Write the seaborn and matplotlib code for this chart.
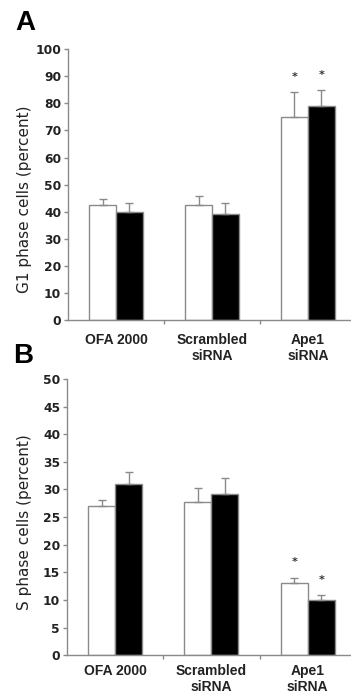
import pandas as pd
import seaborn as sns
import matplotlib.pyplot as plt
import numpy as np

# data
groups = ['OFA 2000', 'Scrambled\nsiRNA', 'Ape1\nsiRNA']
series = ['open', 'filled']

g1_open = [42.5, 42.5, 75.0]
g1_filled = [40.0, 39.0, 79.0]
g1_open_err = [2.0, 3.3, 9.2]
g1_filled_err = [3.2, 4.2, 6.0]
g1_stars = [False, False, True]

s_open = [27.0, 27.7, 13.0]
s_filled = [31.0, 29.1, 10.0]
s_open_err = [1.0, 2.5, 1.0]
s_filled_err = [2.1, 3.0, 0.8]
s_stars = [False, False, True]

sns.set_theme(style="white")
plt.rcParams['font.family'] = ['DejaVu Sans']

GRAY = '#8a8a8a'
INK = '#222222'


def panel(ax, open_vals, filled_vals, open_err, filled_err, stars, ymax, ystep,
          ylabel, star_pad, label_xy, xpad):
    df = pd.DataFrame({
        'group': groups * 2,
        'kind': [series[0]] * 3 + [series[1]] * 3,
        'value': open_vals + filled_vals,
    })
    sns.barplot(data=df, x='group', y='value', hue='kind', hue_order=series,
                palette={'open': 'white', 'filled': 'black'}, width=0.56,
                edgecolor=GRAY, linewidth=1.0, errorbar=None, legend=False, ax=ax)

    errs = open_err + filled_err
    vals = open_vals + filled_vals
    star_flags = stars + stars
    for p, v, e, st in zip(ax.patches, vals, errs, star_flags):
        xc = p.get_x() + p.get_width() / 2
        ax.errorbar(xc, v, yerr=[[0], [e]], fmt='none', ecolor=GRAY,
                    elinewidth=1.0, capsize=2.8, capthick=1.0)
        if st:
            ax.text(xc, v + e + star_pad, '*', ha='center', va='center',
                    fontsize=8, fontweight='bold', color='#333333')

    ax.set_ylim(0, ymax)
    ax.set_yticks(np.arange(0, ymax + 0.1, ystep))
    ax.set_xlim(-0.5, 2.45)
    ax.set_xlabel('')
    ax.set_ylabel(ylabel, fontsize=11, color=INK)
    ax.yaxis.set_label_coords(*label_xy)
    for s in ['top', 'right']:
        ax.spines[s].set_visible(False)
    for s in ['left', 'bottom']:
        ax.spines[s].set_color(GRAY)
        ax.spines[s].set_linewidth(1.0)
    ax.tick_params(axis='y', left=True, length=3, width=1, color=GRAY,
                   labelsize=8.8, pad=2)
    ax.tick_params(axis='x', bottom=False, pad=xpad)
    ax.set_xticks([0.5, 1.5], minor=True)
    ax.tick_params(axis='x', which='minor', bottom=True, length=3, width=1, color=GRAY)
    for lab in ax.get_yticklabels():
        lab.set_fontweight('bold')
        lab.set_color(INK)
    for lab in ax.get_xticklabels():
        lab.set_fontweight('bold')
        lab.set_color(INK)
        lab.set_fontfamily(['Liberation Sans', 'DejaVu Sans'])
        lab.set_fontsize(10)
        lab.set_linespacing(1.2)


fig = plt.figure(figsize=(3.51, 6.94), dpi=100)
axA = fig.add_axes([0.194, 0.539, 0.806, 0.390])
axB = fig.add_axes([0.191, 0.056, 0.809, 0.398])

panel(axA, g1_open, g1_filled, g1_open_err, g1_filled_err, g1_stars,
      100, 10, 'G1 phase cells (percent)', 5.5, (-0.127, 0.446), 3.5)
panel(axB, s_open, s_filled, s_open_err, s_filled_err, s_stars,
      50, 5, 'S phase cells (percent)', 2.8, (-0.123, 0.482), 0.5)

fig.text(0.044, 0.967, 'A', fontsize=20, fontweight='bold', va='center',
         family=['Liberation Sans', 'DejaVu Sans'], color='black')
fig.text(0.037, 0.487, 'B', fontsize=20, fontweight='bold', va='center',
         family=['Liberation Sans', 'DejaVu Sans'], color='black')

fig.savefig('out.png', dpi=100)
